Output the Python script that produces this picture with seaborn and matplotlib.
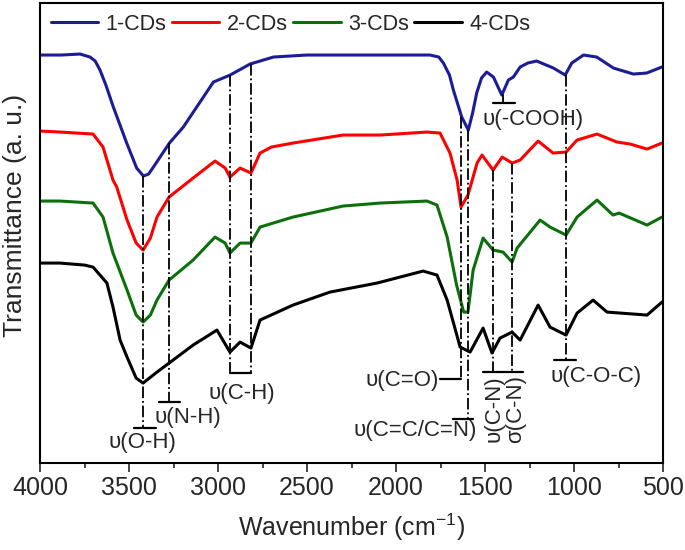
import matplotlib
matplotlib.use("Agg")
import matplotlib.pyplot as plt
import seaborn as sns
import pandas as pd
from matplotlib.ticker import MultipleLocator

# Read data (arbitrary units)
wn_1 = [4000, 3880, 3775, 3719, 3690, 3663, 3630, 3588, 3513, 3457, 3419, 3390, 3363, 3273, 3195,
        3101, 3026, 2932, 2820, 2689, 2502, 2314, 2090, 1809, 1760, 1734, 1700, 1678, 1631, 1594,
        1570, 1547, 1520, 1491, 1453, 1406, 1369, 1341, 1303, 1260, 1210, 1116, 1050, 1013, 947,
        873, 830, 779, 667, 592, 507]
t_1 = [40.8, 40.8, 40.9, 40.6, 40.2, 39.3, 37.8, 35.6, 32.0, 29.5, 28.7, 28.9, 29.6, 32.0, 33.6,
       36.1, 38.1, 38.8, 39.9, 40.6, 40.8, 40.8, 40.8, 40.8, 40.6, 40.0, 38.8, 37.3, 34.6, 33.3,
       35.0, 37.0, 38.5, 39.1, 38.6, 36.8, 38.3, 38.6, 39.6, 40.0, 40.2, 39.5, 38.8, 40.0, 40.8,
       40.6, 40.1, 39.5, 38.9, 39.0, 39.6]

wn_2 = [4000, 3888, 3702, 3646, 3590, 3569, 3511, 3460, 3421, 3380, 3343, 3275, 3140, 3017, 2960,
        2933, 2876, 2815, 2764, 2700, 2579, 2298, 2090, 1826, 1753, 1697, 1657, 1635, 1596, 1545,
        1517, 1455, 1404, 1348, 1303, 1202, 1118, 1045, 983, 871, 815, 759, 685, 590, 506]
t_2 = [33.2, 33.1, 32.9, 31.6, 28.3, 27.6, 24.3, 22.0, 21.3, 22.5, 24.6, 26.6, 28.5, 30.2, 29.5,
       28.6, 29.5, 29.0, 31.0, 31.6, 32.0, 32.8, 32.8, 33.1, 33.0, 31.0, 28.3, 25.6, 26.8, 30.0,
       30.8, 29.3, 30.6, 30.0, 30.3, 32.2, 31.0, 31.1, 32.3, 32.9, 32.5, 32.1, 31.9, 31.4, 32.0]

wn_3 = [4000, 3888, 3702, 3646, 3590, 3511, 3460, 3421, 3380, 3343, 3275, 3140, 3017, 2960, 2933,
        2876, 2815, 2764, 2579, 2298, 2090, 1826, 1770, 1713, 1660, 1620, 1596, 1567, 1511, 1455,
        1399, 1348, 1320, 1191, 1135, 1045, 983, 871, 781, 747, 590, 506]
t_3 = [26.2, 26.2, 26.0, 24.6, 21.0, 17.3, 14.8, 14.1, 14.8, 16.3, 18.3, 20.3, 22.6, 22.0, 21.0,
       22.0, 22.0, 23.6, 24.6, 25.7, 26.0, 26.2, 25.8, 22.6, 17.8, 15.1, 15.1, 19.3, 22.5, 21.3,
       21.1, 20.1, 21.5, 24.3, 23.6, 22.8, 24.6, 26.3, 24.8, 25.0, 23.8, 24.6]

wn_4 = [4000, 3888, 3750, 3702, 3624, 3590, 3550, 3511, 3460, 3421, 3343, 3275, 3140, 3006, 2933,
        2876, 2815, 2764, 2579, 2371, 2107, 1848, 1770, 1713, 1640, 1584, 1511, 1461, 1416, 1348,
        1303, 1202, 1135, 1079, 1045, 983, 893, 815, 590, 506]
t_4 = [20.0, 20.0, 19.8, 19.6, 18.0, 15.6, 12.3, 10.6, 8.5, 8.0, 9.1, 10.0, 11.8, 13.3, 11.1,
       12.1, 11.5, 14.3, 15.8, 17.1, 18.0, 19.2, 18.8, 16.3, 11.6, 11.1, 13.5, 11.0, 12.5, 13.1,
       12.3, 15.8, 13.6, 13.1, 12.8, 15.0, 16.3, 15.1, 14.8, 16.1]

samples = ['1-CDs', '2-CDs', '3-CDs', '4-CDs']
colors = ['#1c1c96', '#ff0000', '#0b700b', '#000000']

# Band assignments: label, wavenumbers of marker lines, top of each line, bar span, bar level
band_labels = ['υ(O-H)', 'υ(N-H)', 'υ(C-H)', 'υ(C=O)', 'υ(C=C/C=N)', 'υ(C-N)', 'σ(C-N)', 'υ(C-O-C)', 'υ(-COOH)']
line_wn = [3420, 3275, 2933, 2815, 1635, 1596, 1455, 1348, 1045]
line_top = [28.7, 32.0, 38.8, 39.9, 34.6, 33.3, 29.3, 30.0, 38.8]
line_bottom = [3.5, 6.1, 9.0, 9.0, 8.4, 4.4, 9.1, 9.1, 10.3]
bar_from = [3472, 3331, 2933, 1753, 1680, 1511, 1112, 1455]
bar_to = [3348, 3213, 2815, 1635, 1567, 1287, 989, 1331]
bar_level = [3.5, 6.1, 9.0, 8.4, 4.4, 9.1, 10.3, 36.0]

frames = []
for name, w, t in zip(samples, [wn_1, wn_2, wn_3, wn_4], [t_1, t_2, t_3, t_4]):
    frames.append(pd.DataFrame({'Wavenumber': w, 'Transmittance': t, 'Sample': name}))
df = pd.concat(frames, ignore_index=True)

sns.set_style('ticks')
plt.rcParams['font.family'] = ['Liberation Sans', 'DejaVu Sans']

fig = plt.figure(figsize=(6.85, 5.5), dpi=100)
ax = fig.add_axes([0.0584, 0.158, 0.9096, 0.8365])

sns.lineplot(data=df, x='Wavenumber', y='Transmittance', hue='Sample', palette=colors,
             sort=False, estimator=None, linewidth=2.2, ax=ax)

# dash-dot marker lines
for w, top, bot in zip(line_wn, line_top, line_bottom):
    ax.plot([w, w], [top, bot], color='black', linestyle='-.', linewidth=1.3)
ax.plot([1400, 1400], [36.8, 36.0], color='black', linewidth=1.3)
for a, b, lv in zip(bar_from, bar_to, bar_level):
    ax.plot([a, b], [lv, lv], color='black', linewidth=1.6)

fs = 16
ax.text(3427, 2.1, band_labels[0], ha='center', va='center', fontsize=fs)
ax.text(3169, 4.6, band_labels[1], ha='center', va='center', fontsize=fs)
ax.text(2865, 7.0, band_labels[2], ha='center', va='center', fontsize=fs)
ax.text(1760, 8.3, band_labels[3], ha='right', va='center', fontsize=fs)
ax.text(1545, 3.3, band_labels[4], ha='right', va='center', fontsize=fs)
ax.text(1449, 8.8, band_labels[5], ha='center', va='top', rotation=90, fontsize=fs)
ax.text(1331, 8.8, band_labels[6], ha='center', va='top', rotation=90, fontsize=fs)
ax.text(876, 8.7, band_labels[7], ha='center', va='center', fontsize=fs)
ax.text(1230, 34.4, band_labels[8], ha='center', va='center', fontsize=fs)

ax.set_xlim(4000, 500)
ax.set_ylim(0, 46)
ax.xaxis.set_major_locator(MultipleLocator(500))
ax.xaxis.set_minor_locator(MultipleLocator(250))
ax.tick_params(axis='x', which='major', direction='out', length=6.5, width=1.2, labelsize=18, pad=3)
ax.tick_params(axis='x', which='minor', direction='out', length=3.6, width=1.2)
ax.set_yticks([])
for sp in ax.spines.values():
    sp.set_visible(True)
    sp.set_linewidth(1.5)
    sp.set_color('black')

ax.set_xlabel('Wavenumber (cm$^{\\mathregular{-1}}$)', fontsize=18, labelpad=8)
ax.set_ylabel('Transmittance (a. u.)', fontsize=19)
ax.yaxis.set_label_coords(-0.021, 0.539)

handles, labels = ax.get_legend_handles_labels()
ax.legend(handles, labels, loc='upper left', bbox_to_anchor=(0.0, 1.0), ncol=4, frameon=False,
          fontsize=15.5, handlelength=2.2, handletextpad=0.35, columnspacing=0.25,
          borderaxespad=0.2, borderpad=0.3)

plt.savefig('out.png', dpi=100)
